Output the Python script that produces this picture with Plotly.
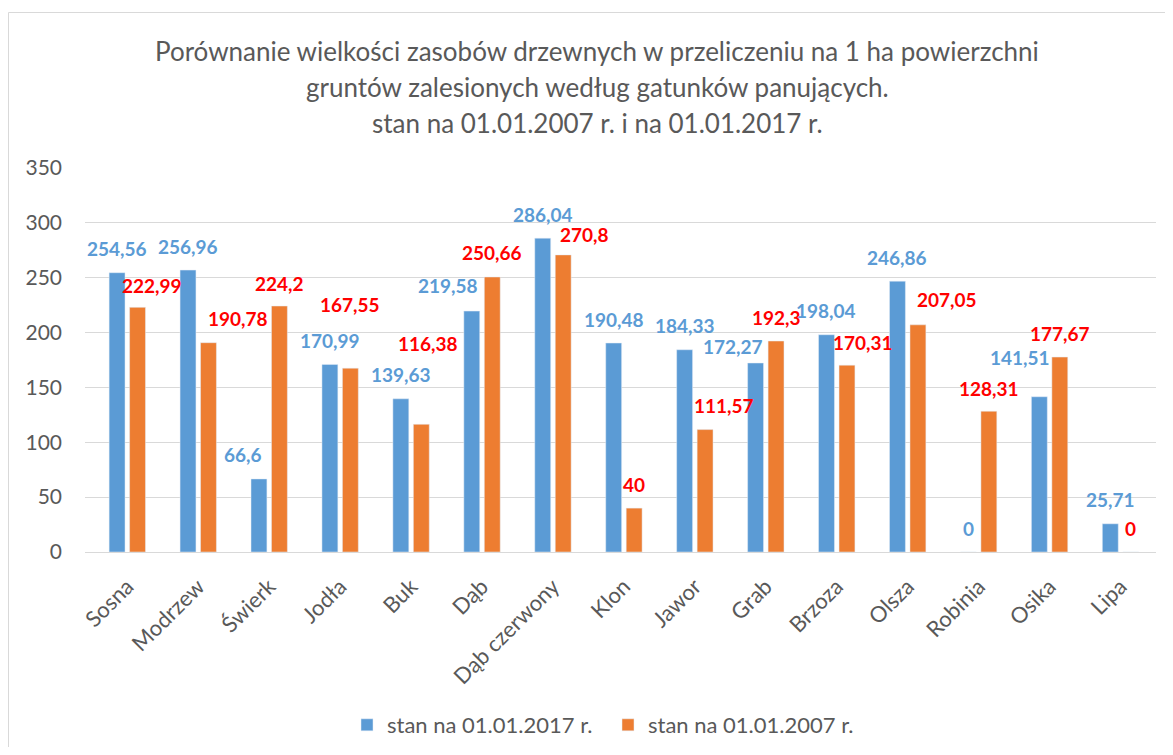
import plotly.graph_objects as go

categories = ["Sosna", "Modrzew", "Świerk", "Jodła", "Buk", "Dąb", "Dąb czerwony",
              "Klon", "Jawor", "Grab", "Brzoza", "Olsza", "Robinia", "Osika", "Lipa"]
values_2017 = [254.56, 256.96, 66.6, 170.99, 139.63, 219.58, 286.04, 190.48,
               184.33, 172.27, 198.04, 246.86, 0, 141.51, 25.71]
values_2007 = [222.99, 190.78, 224.2, 167.55, 116.38, 250.66, 270.8, 40,
               111.57, 192.3, 170.31, 207.05, 128.31, 177.67, 0]
series_names = ["stan na 01.01.2017 r.", "stan na 01.01.2007 r."]
title_lines = ["Porównanie wielkości zasobów drzewnych w przeliczeniu na 1 ha powierzchni",
               "gruntów zalesionych według gatunków panujących.",
               "stan na 01.01.2007 r. i na 01.01.2017 r."]
y_ticks = [0, 50, 100, 150, 200, 250, 300, 350]

# label nudges in pixels (manually moved labels in the original)
label_dx_2017 = [0, 0, -16, 0, 0, -24, 0, 0, 0, -23, 0, 0, 0, -19, 0]
label_dy_2017 = [0, 0, 0, 0, 0, 2, 0, 0, 0, -7, 0, 0, 0, 15, 0]
label_dx_2007 = [14, 29, 0, 0, 7, 0, 21, 0, 19, 0, 16, 29, 0, 0, 0]
label_dy_2007 = [-2, 0, -1, 40, 57, 0, -4, 0, 0, 0, -1, 1, -1, 0, 0]

BLUE = "#5B9BD5"
ORANGE = "#ED7D31"
RED = "#FF0000"
GRAY = "#595959"
FONT = "Lato"

W, H = 1157, 739
ML, MR, MT, MB = 77, 9, 160, 195
PW = W - ML - MR
PH = H - MT - MB


def fmt(v):
    return f"{v:g}".replace(".", ",")


fig = go.Figure()
fig.add_trace(go.Bar(x=categories, y=values_2017, name=series_names[0],
                     marker=dict(color=BLUE)))
fig.add_trace(go.Bar(x=categories, y=values_2007, name=series_names[1],
                     marker=dict(color=ORANGE)))

cat_w = PW / len(categories)
bargap = 0.423
slot = cat_w * (1 - bargap) / 2
annotations = []
for i, c in enumerate(categories):
    annotations.append(dict(x=c, y=values_2017[i], text=fmt(values_2017[i]), showarrow=False,
                            xshift=-slot / 2 + label_dx_2017[i], yshift=24 + label_dy_2017[i],
                            yanchor="middle", xanchor="center",
                            font=dict(family=FONT, size=19, color=BLUE, weight="bold")))
    annotations.append(dict(x=c, y=values_2007[i], text=fmt(values_2007[i]), showarrow=False,
                            xshift=slot / 2 + label_dx_2007[i], yshift=24 + label_dy_2007[i],
                            yanchor="middle", xanchor="center",
                            font=dict(family=FONT, size=19, color=RED, weight="bold")))

title_y_px = [43, 79, 115]
for line, ty in zip(title_lines, title_y_px):
    annotations.append(dict(text=line, xref="paper", yref="paper",
                            x=(589 - ML) / PW, y=(MT + PH - ty) / PH,
                            xanchor="center", yanchor="middle", showarrow=False,
                            font=dict(family=FONT, size=26, color=GRAY)))

fig.update_layout(
    width=W, height=H,
    margin=dict(l=ML, r=MR, t=MT, b=MB, autoexpand=False),
    paper_bgcolor="white", plot_bgcolor="white",
    barmode="group", bargap=bargap, bargroupgap=0.223,
    showlegend=True,
    legend=dict(orientation="h", x=(600 - ML) / PW, xanchor="center",
                y=(MT + PH - 717) / PH, yanchor="middle",
                font=dict(family=FONT, size=22, color=GRAY),
                itemwidth=30, entrywidth=216, traceorder="normal"),
    annotations=annotations,
    font=dict(family=FONT, color=GRAY),
    separators=", ",
    shapes=[dict(type="rect", xref="paper", yref="paper",
                 x0=(0.5 - ML) / PW, x1=(W + 20 - ML) / PW,
                 y0=(MT + PH - (H + 20)) / PH, y1=(MT + PH - 4.5) / PH,
                 line=dict(color="#D9D9D9", width=1), fillcolor="rgba(0,0,0,0)",
                 layer="below")],
)
fig.update_yaxes(range=[0, 350], tickvals=y_ticks, showgrid=True, gridcolor="#D9D9D9",
                 gridwidth=1, zeroline=True, zerolinecolor="#D9D9D9", zerolinewidth=1,
                 tickfont=dict(family=FONT, size=21, color=GRAY), ticks="",
                 ticklabelstandoff=22, fixedrange=True)
fig.update_xaxes(tickangle=-45, tickfont=dict(family=FONT, size=22, color=GRAY),
                 showline=False, ticks="outside", ticklen=12, tickcolor="rgba(0,0,0,0)",
                 fixedrange=True)

fig.write_html("out.html")
